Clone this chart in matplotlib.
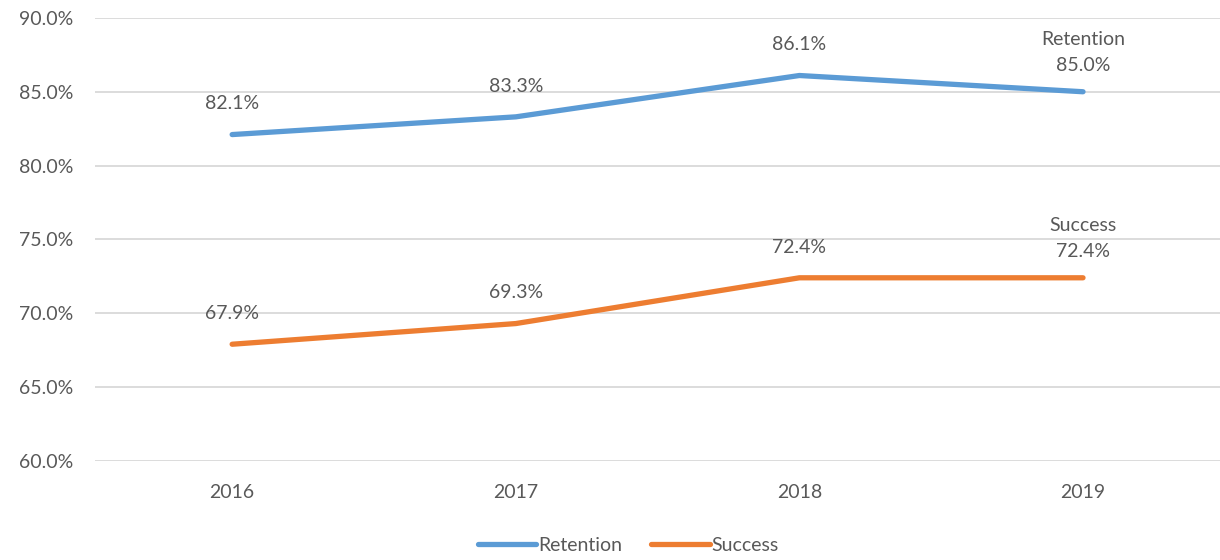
import matplotlib.pyplot as plt
from matplotlib.ticker import PercentFormatter

# Data
years = ['2016', '2017', '2018', '2019']
retention = [82.1, 83.3, 86.1, 85.0]
success = [67.9, 69.3, 72.4, 72.4]

blue = '#5B9BD5'
orange = '#ED7D31'
text_color = '#595959'

plt.rcParams['font.family'] = ['Lato', 'DejaVu Sans']

fig = plt.figure(figsize=(12.2, 5.6), dpi=100)
ax = fig.add_axes([0.078, 0.177, 0.922, 0.791])

x = list(range(len(years)))
ax.plot(x, retention, color=blue, linewidth=3.8, solid_capstyle='round', label='Retention')
ax.plot(x, success, color=orange, linewidth=3.8, solid_capstyle='round', label='Success')

# data labels
for series, name in [(retention, 'Retention'), (success, 'Success')]:
    for i, v in enumerate(series):
        txt = f'{v:.1f}%'
        off = 16
        if i == len(series) - 1:
            txt = f'{name}\n{txt}'
            off = 13
        ax.annotate(txt, (i, v), xytext=(0, off), textcoords='offset points',
                    ha='center', va='bottom', fontsize=14, color=text_color,
                    linespacing=1.6)

ax.set_xlim(-0.483, 3.483)
ax.set_ylim(60, 90)
ax.set_xticks(x)
ax.set_xticklabels(years)
ax.set_yticks([60, 65, 70, 75, 80, 85, 90])
ax.yaxis.set_major_formatter(PercentFormatter(decimals=1))
ax.tick_params(length=0, labelsize=14, colors=text_color)
ax.tick_params(axis='y', pad=16)
ax.tick_params(axis='x', pad=17)
ax.grid(axis='y', color='#D9D9D9', linewidth=1.3)
ax.set_axisbelow(True)
for s in ax.spines.values():
    s.set_visible(False)

leg = fig.legend(loc='lower center', bbox_to_anchor=(0.515, -0.02), ncol=2,
                 frameon=False, fontsize=14, handlelength=3.0, handletextpad=0.1,
                 columnspacing=1.5)
for t in leg.get_texts():
    t.set_color(text_color)

fig.savefig('out.png', dpi=100)
